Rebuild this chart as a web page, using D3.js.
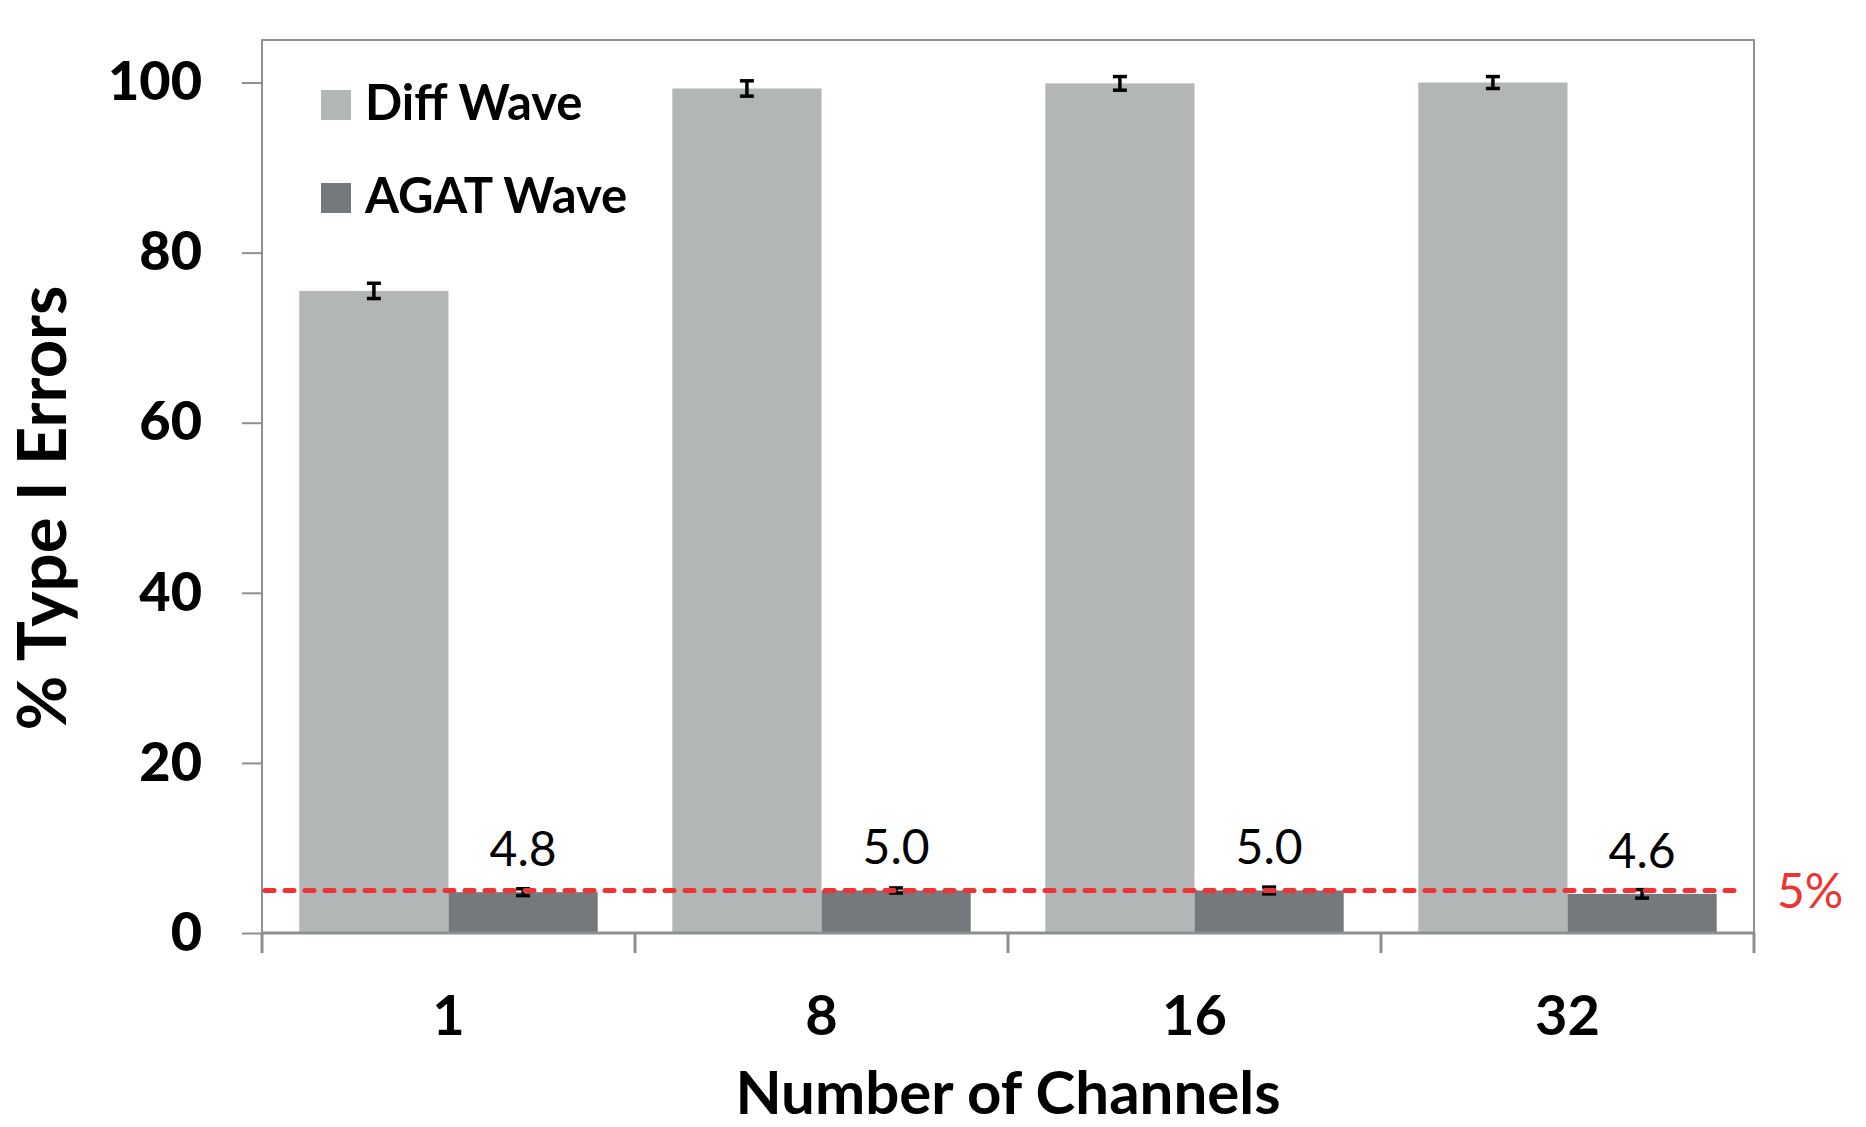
<!DOCTYPE html>
<html>
<head>
<meta charset="utf-8">
<script src="https://cdn.jsdelivr.net/npm/d3@7"></script>
<style>
  html, body { margin: 0; padding: 0; background: #fff; }
  svg { display: block; }
  text { font-family: Lato, "Open Sans", sans-serif; }
</style>
</head>
<body>
<svg id="chart" width="1866" height="1127"></svg>
<script>
const categories = ["1", "8", "16", "32"];
const seriesNames = ["Diff Wave", "AGAT Wave"];
const diffValues = [75.5, 99.3, 99.9, 100.0];
const diffErrors = [0.9, 0.9, 0.8, 0.7];
const agatValues = [4.8, 5.0, 5.0, 4.6];
const agatErrors = [0.4, 0.3, 0.4, 0.5];
const yTicks = [0, 20, 40, 60, 80, 100];
const refValue = 5;
const refLabel = "5%";
const yTitle = "% Type I Errors";
const xTitle = "Number of Channels";

(function () {
const colors = { "Diff Wave": "#b3b6b6", "AGAT Wave": "#76797b" };
const axisColor = "#8c9090";

const svg = d3.select("#chart");
const pLeft = 262, pRight = 1754, pTop = 40, pBottom = 933;

const x = d3.scaleBand().domain(categories).range([pLeft, pRight]).paddingInner(0).paddingOuter(0);
const xs = d3.scaleBand().domain(seriesNames).range([0, x.bandwidth()]).paddingInner(0).paddingOuter(0.25);
const y = d3.scaleLinear().domain([0, 105]).range([pBottom, pTop]);

const rows = categories.map((c, i) => ({
  cat: c,
  items: [
    { series: "Diff Wave", value: diffValues[i], err: diffErrors[i] },
    { series: "AGAT Wave", value: agatValues[i], err: agatErrors[i] }
  ]
}));

// bars
const groups = svg.append("g").selectAll("g").data(rows).join("g")
  .attr("transform", d => `translate(${x(d.cat)},0)`);
groups.selectAll("rect").data(d => d.items).join("rect")
  .attr("x", d => xs(d.series))
  .attr("width", xs.bandwidth())
  .attr("y", d => y(d.value))
  .attr("height", d => y(0) - y(d.value))
  .attr("fill", d => colors[d.series]);

// frame (top, left, right)
svg.append("path")
  .attr("d", `M${pLeft},${pBottom} V${pTop} H${pRight} V${pBottom}`)
  .attr("fill", "none").attr("stroke", axisColor).attr("stroke-width", 2);

// y axis
const yAxis = d3.axisLeft(y).tickValues(yTicks).tickSize(20).tickPadding(40).tickFormat(d3.format("d"));
const ga = svg.append("g").attr("transform", `translate(${pLeft},0)`).call(yAxis);
ga.select(".domain").remove();
ga.selectAll(".tick line").attr("stroke", axisColor).attr("stroke-width", 2);
ga.selectAll(".tick text").attr("font-family", "Lato, sans-serif").attr("font-weight", "900")
  .attr("font-size", 54).attr("fill", "#000");

// reference line
svg.append("line")
  .attr("x1", pLeft + 3).attr("x2", pRight - 12)
  .attr("y1", y(refValue)).attr("y2", y(refValue))
  .attr("stroke", "#ee3333").attr("stroke-width", 5)
  .attr("stroke-linecap", "round")
  .attr("stroke-dasharray", "9,11");
svg.append("text")
  .attr("x", pRight + 23).attr("y", y(refValue)).attr("dy", "0.36em")
  .attr("font-size", 48).attr("fill", "#ee3333").text(refLabel);

// error bars
const eb = groups.selectAll("g.err").data(d => d.items).join("g").attr("class", "err")
  .attr("transform", d => `translate(${xs(d.series) + xs.bandwidth() / 2},0)`);
eb.append("line").attr("x1", 0).attr("x2", 0)
  .attr("y1", d => y(d.value + d.err)).attr("y2", d => y(d.value - d.err))
  .attr("stroke", "#000").attr("stroke-width", 3.5);
eb.append("line").attr("x1", -7).attr("x2", 7)
  .attr("y1", d => y(d.value + d.err)).attr("y2", d => y(d.value + d.err))
  .attr("stroke", "#000").attr("stroke-width", 3.5);
eb.append("line").attr("x1", -7).attr("x2", 7)
  .attr("y1", d => y(d.value - d.err)).attr("y2", d => y(d.value - d.err))
  .attr("stroke", "#000").attr("stroke-width", 3.5);

// data labels for AGAT
groups.selectAll("text.lbl").data(d => d.items.filter(it => it.series === "AGAT Wave")).join("text")
  .attr("class", "lbl")
  .attr("x", d => xs(d.series) + xs.bandwidth() / 2)
  .attr("y", d => y(d.value) - 26)
  .attr("text-anchor", "middle").attr("font-size", 48).attr("fill", "#000")
  .text(d => d3.format(".1f")(d.value));

// x axis line + ticks
svg.append("line").attr("x1", pLeft).attr("x2", pRight + 1).attr("y1", pBottom).attr("y2", pBottom)
  .attr("stroke", axisColor).attr("stroke-width", 3);
const bounds = categories.map(c => x(c)).concat([x(categories[categories.length - 1]) + x.bandwidth()]);
svg.append("g").selectAll("line").data(bounds).join("line")
  .attr("x1", d => d).attr("x2", d => d).attr("y1", pBottom).attr("y2", pBottom + 20)
  .attr("stroke", axisColor).attr("stroke-width", 3);
svg.append("g").selectAll("text").data(categories).join("text")
  .attr("x", d => x(d) + x.bandwidth() / 2).attr("y", 1035)
  .attr("text-anchor", "middle").attr("font-weight", "bold").attr("font-size", 56)
  .text(d => d);

// axis titles
svg.append("text").attr("x", (pLeft + pRight) / 2).attr("y", 1114)
  .attr("text-anchor", "middle").attr("font-weight", "bold").attr("font-size", 60)
  .text(xTitle);
svg.append("text").attr("transform", "translate(66,508) rotate(-90)")
  .attr("text-anchor", "middle").attr("font-weight", "bold").attr("font-size", 67)
  .text(yTitle);

// legend
const legend = svg.append("g").selectAll("g").data(seriesNames).join("g")
  .attr("transform", (d, i) => `translate(321,${90 + i * 93})`);
legend.append("rect").attr("width", 30).attr("height", 30).attr("fill", d => colors[d]);
legend.append("text").attr("x", 44).attr("y", 30)
  .attr("font-weight", "bold").attr("font-size", 49).text(d => d);
})();
</script>
</body>
</html>
